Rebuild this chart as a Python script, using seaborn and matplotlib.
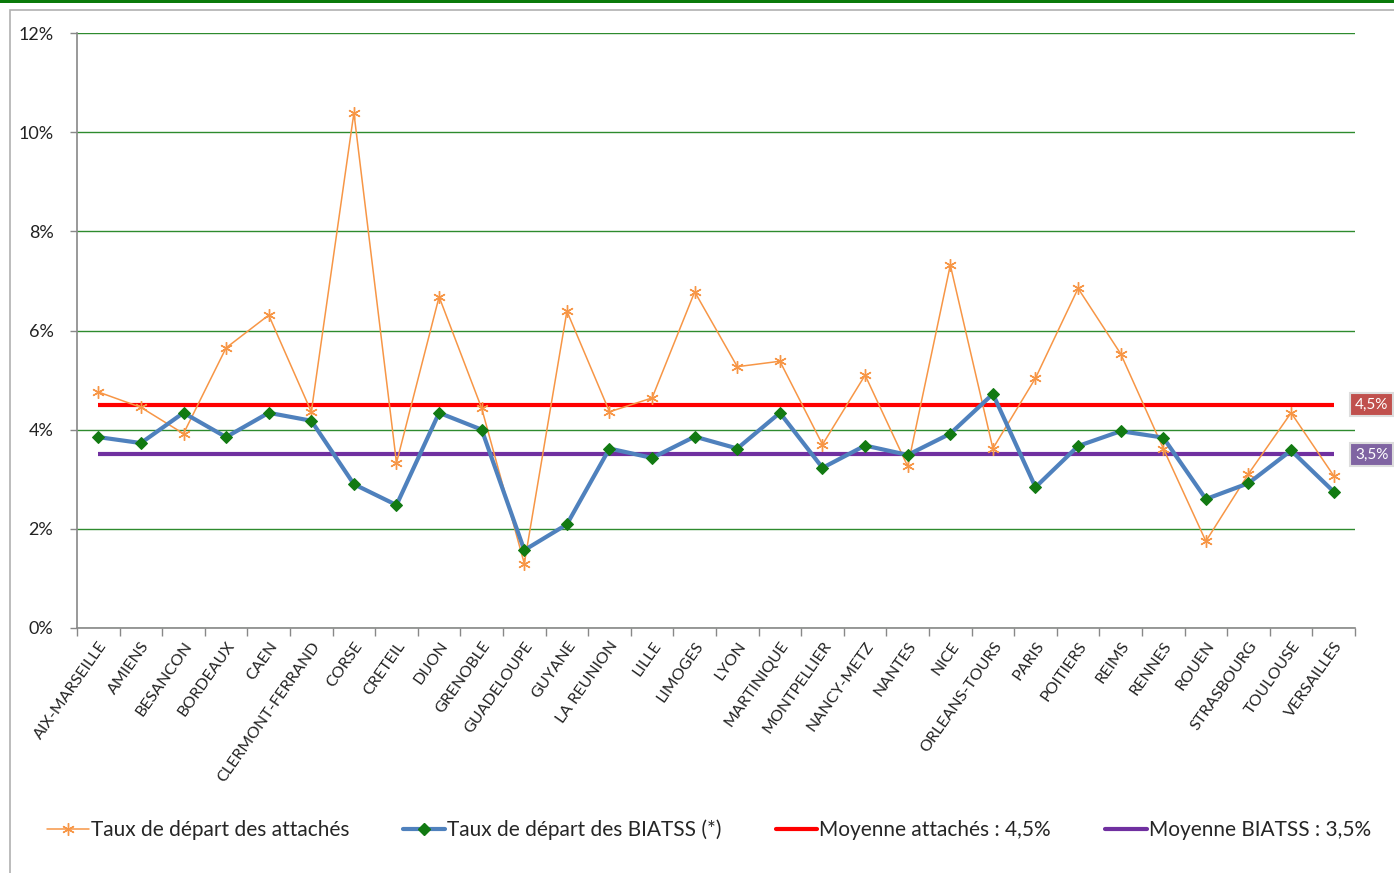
import matplotlib
matplotlib.use("Agg")
import matplotlib.pyplot as plt
import matplotlib.patches as mpatches
import matplotlib.transforms as mtransforms
from matplotlib.lines import Line2D
import seaborn as sns
import pandas as pd

categories = ["AIX-MARSEILLE", "AMIENS", "BESANCON", "BORDEAUX", "CAEN", "CLERMONT-FERRAND",
              "CORSE", "CRETEIL", "DIJON", "GRENOBLE", "GUADELOUPE", "GUYANE", "LA REUNION",
              "LILLE", "LIMOGES", "LYON", "MARTINIQUE", "MONTPELLIER", "NANCY-METZ", "NANTES",
              "NICE", "ORLEANS-TOURS", "PARIS", "POITIERS", "REIMS", "RENNES", "ROUEN",
              "STRASBOURG", "TOULOUSE", "VERSAILLES"]
attaches = [4.76, 4.45, 3.92, 5.65, 6.31, 4.36, 10.39, 3.33, 6.68, 4.43, 1.30, 6.39, 4.36,
            4.64, 6.78, 5.27, 5.38, 3.70, 5.10, 3.26, 7.32, 3.62, 5.04, 6.85, 5.53, 3.62,
            1.75, 3.11, 4.34, 3.07]
biatss = [3.85, 3.73, 4.34, 3.85, 4.34, 4.18, 2.90, 2.48, 4.34, 4.00, 1.57, 2.09, 3.62,
          3.43, 3.86, 3.62, 4.34, 3.23, 3.68, 3.49, 3.92, 4.72, 2.84, 3.67, 3.97, 3.84,
          2.60, 2.92, 3.58, 2.75]
mean_attaches = 4.5
mean_biatss = 3.5
yticks = [0, 2, 4, 6, 8, 10, 12]
legend_labels = ["Taux de départ des attachés", "Taux de départ des BIATSS (*)",
                 "Moyenne attachés : 4,5%", "Moyenne BIATSS : 3,5%"]
mean_labels = ["4,5%", "3,5%"]

sns.set_theme(style="white")
plt.rcParams['font.family'] = ['Lato', 'DejaVu Sans']

W, H = 1394, 873
fig = plt.figure(figsize=(W / 100, H / 100), dpi=100)
fig.patch.set_facecolor("white")

# outer frame and top green bar
fig.add_artist(mpatches.Rectangle((10 / W, -0.01), 1.0, 1 - 10 / H + 0.01, transform=fig.transFigure,
                                  fill=False, edgecolor="#b0b0b0", linewidth=1.2))
fig.add_artist(mpatches.Rectangle((0, 1 - 3 / H), 1, 3 / H, transform=fig.transFigure,
                                  facecolor="#0a7a0a", edgecolor="none"))

ax = fig.add_axes([77 / W, 1 - 628 / H, (1355 - 77) / W, (628 - 33) / H])
df = pd.DataFrame({"Académie": categories, "attaches": attaches, "biatss": biatss})

orange = "#F79646"
blue = "#4F81BD"
green = "#127A12"
red = "#FF0000"
purple = "#7030A0"

sns.lineplot(data=df, x="Académie", y="attaches", sort=False, ax=ax, color=orange,
             linewidth=1.1, marker=(6, 2, 0), markersize=9, markeredgecolor=orange,
             markeredgewidth=1.0, zorder=4)
sns.lineplot(data=df, x="Académie", y="biatss", sort=False, ax=ax, color=blue,
             linewidth=3, marker="D", markersize=6, markerfacecolor=green,
             markeredgecolor=green, zorder=5)

n = len(categories)
ax.hlines(mean_attaches, 0, n - 1, color=red, linewidth=3, zorder=3)
ax.hlines(mean_biatss, 0, n - 1, color=purple, linewidth=3, zorder=3)

ax.set_xlim(-0.5, n - 0.5)
ax.set_ylim(0, 12)
ax.set_yticks(yticks)
ax.set_yticklabels([f"{v}%" for v in yticks], fontsize=13, color="#222222")
ax.yaxis.grid(True, color="#2e8b2e", linewidth=1.0)
ax.set_axisbelow(True)
ax.set_xlabel("")
ax.set_ylabel("")
ax.set_xticks(range(n))
ax.set_xticklabels(categories, rotation=55, ha="right", rotation_mode="anchor",
                   fontsize=11.5, color="#222222")
ax.set_xticks([i - 0.5 for i in range(n + 1)], minor=True)
ax.tick_params(axis="x", which="major", length=0, pad=8)
ax.tick_params(axis="x", which="minor", length=6, color="#888888", width=1, direction="out", bottom=True)
ax.tick_params(axis="y", which="major", length=5, color="#888888", width=1, direction="out", left=True, pad=12)
for s in ["top", "right"]:
    ax.spines[s].set_visible(False)
for s in ["left", "bottom"]:
    ax.spines[s].set_color("#888888")
    ax.spines[s].set_linewidth(1.2)

trans = mtransforms.blended_transform_factory(ax.transAxes, ax.transData)
for val, lab, col in [(mean_attaches, mean_labels[0], "#C0504D"), (mean_biatss, mean_labels[1], "#8064A2")]:
    ax.text(1.0 + 0.0 / W, val, lab, transform=trans, ha="left", va="center", fontsize=11,
            color="white", clip_on=False,
            bbox=dict(boxstyle="square,pad=0.3", facecolor=col, edgecolor="#dddddd", linewidth=1.5))

handles = [
    Line2D([], [], color=orange, linewidth=1.1, marker=(6, 2, 0), markersize=9, markeredgecolor=orange),
    Line2D([], [], color=blue, linewidth=3, marker="D", markersize=6, markerfacecolor=green, markeredgecolor=green),
    Line2D([], [], color=red, linewidth=3),
    Line2D([], [], color=purple, linewidth=3),
]
fig.legend(handles, legend_labels, loc="center", bbox_to_anchor=(0.5 + 12 / W, 1 - 830 / H), ncol=4,
           frameon=False, fontsize=15, handlelength=2.0, handletextpad=0.1, columnspacing=2.6)

fig.savefig("out.png", dpi=100)
